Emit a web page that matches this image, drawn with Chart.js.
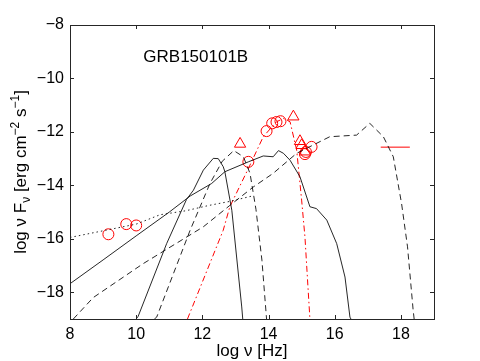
<!DOCTYPE html>
<html>
<head>
<meta charset="utf-8">
<script src="https://cdn.jsdelivr.net/npm/chart.js@4.4.1/dist/chart.umd.min.js"></script>
<style>
html, body { margin: 0; padding: 0; background: #fff; }
</style>
</head>
<body>
<canvas id="sedChart" width="480" height="361"></canvas>
<script>
// axis ticks
const xTicks = [8, 10, 12, 14, 16, 18];
const yTicks = [-8, -10, -12, -14, -16, -18];

// observed points (red)
const circleX = [9.16, 9.70, 10.0, 13.39, 13.94, 14.11, 14.24, 14.36, 15.1, 15.13, 15.3];
const circleY = [-15.83, -15.45, -15.5, -13.12, -11.97, -11.68, -11.63, -11.6, -12.83, -12.75, -12.56];
const triangleX = [13.14, 14.75, 14.95, 15.0, 15.1];
const triangleY = [-12.45, -11.43, -12.35, -12.5, -12.74];
const limitX = [17.39, 18.27];
const limitY = [-12.57, -12.57];

// model curves
const dottedX = [8.0, 9.0, 10.0, 10.72, 11.5, 12.2, 12.83, 13.5];
const dottedY = [-15.95, -15.7, -15.45, -15.1, -14.95, -14.75, -14.6, -14.4];

const solidAX = [8.0, 9.0, 10.0, 11.0, 11.63, 12.28, 12.68, 13.39, 13.84, 14.14, 14.3, 14.45, 14.65, 14.95, 15.25, 15.45, 15.76, 16.06, 16.31, 16.46, 16.49];
const solidAY = [-17.68, -16.79, -15.89, -15.0, -14.4, -13.93, -13.49, -13.12, -12.9, -12.93, -12.7, -12.8, -13.06, -13.68, -14.8, -14.87, -15.3, -16.18, -17.43, -18.93, -19.0];

const solidBX = [10.0, 10.06, 10.92, 11.52, 11.73, 12.03, 12.33, 12.48, 12.63, 12.68, 12.89, 13.19, 13.22];
const solidBY = [-19.0, -18.9, -16.18, -14.53, -14.18, -13.43, -12.99, -13.0, -13.3, -13.49, -14.93, -18.55, -19.0];

const dashCX = [8.1, 8.7, 10.21, 12.03, 12.83, 13.54, 14.14, 14.85, 15.85, 16.66, 17.06, 17.47, 17.77, 18.02, 18.2, 18.37, 18.4];
const dashCY = [-19.0, -18.2, -16.93, -15.55, -14.75, -14.06, -13.55, -12.8, -12.18, -12.12, -11.68, -12.18, -12.93, -14.68, -16.3, -18.67, -19.0];

const dashDX = [10.55, 10.62, 11.63, 12.23, 12.6, 12.95, 13.24, 13.44, 13.62, 13.8, 13.94];
const dashDY = [-19.0, -18.93, -15.68, -13.93, -13.1, -12.7, -12.93, -13.55, -14.9, -16.8, -19.0];

const redEX = [11.55, 12.63, 12.83, 13.44, 13.84, 14.24, 14.45, 14.65, 14.85, 15.0, 15.1, 15.25];
const redEY = [-19.0, -15.68, -14.8, -13.24, -12.18, -11.62, -11.5, -11.62, -12.68, -14.55, -15.93, -19.0];

const grbName = "GRB150101B";
const grbPos = [11.8, -9.2];

const FONT = '"Liberation Sans", Arial, Helvetica, sans-serif';
const BLACK = "rgba(0,0,0,0.85)";
const RED = "#ff0000";

function pts(xs, ys) {
    return xs.map((v, i) => ({ x: v, y: ys[i] }));
}

function curve(xs, ys, color, dash) {
    return {
        type: "line",
        data: pts(xs, ys),
        borderColor: color,
        borderWidth: 1,
        borderDash: dash,
        pointRadius: 0,
        fill: false,
        tension: 0
    };
}

// box, inward ticks, labels
const frame = {
    id: "frame",
    afterDraw(chart) {
        const { ctx, chartArea: a, scales: { x, y } } = chart;
        ctx.save();
        ctx.strokeStyle = "#262626";
        ctx.lineWidth = 1;
        ctx.strokeRect(Math.round(a.left) + 0.5, Math.round(a.top) + 0.5,
            Math.round(a.right - a.left), Math.round(a.bottom - a.top));
        ctx.beginPath();
        xTicks.forEach(v => {
            const px = Math.round(x.getPixelForValue(v)) + 0.5;
            ctx.moveTo(px, a.bottom); ctx.lineTo(px, a.bottom - 4);
            ctx.moveTo(px, a.top); ctx.lineTo(px, a.top + 4);
        });
        yTicks.forEach(v => {
            const py = Math.round(y.getPixelForValue(v)) + 0.5;
            ctx.moveTo(a.left, py); ctx.lineTo(a.left + 4, py);
            ctx.moveTo(a.right, py); ctx.lineTo(a.right - 4, py);
        });
        ctx.stroke();

        ctx.fillStyle = "#000";
        ctx.font = "17px " + FONT;
        ctx.textAlign = "center";
        ctx.textBaseline = "middle";
        ctx.fillText(grbName, x.getPixelForValue(grbPos[0]), y.getPixelForValue(grbPos[1]));

        // x title
        ctx.textBaseline = "alphabetic";
        ctx.fillText("log \u03bd [Hz]", (a.left + a.right) / 2, 356);

        // y title, rotated, with sub/superscripts
        const parts = [
            ["log \u03bd F", 17, 0],
            ["\u03bd", 12, 4],
            [" [erg cm", 17, 0],
            ["\u22122", 12, -7],
            [" s", 17, 0],
            ["\u22121", 12, -7],
            ["]", 17, 0]
        ];
        let total = 0;
        parts.forEach(p => { ctx.font = p[1] + "px " + FONT; total += ctx.measureText(p[0]).width; });
        ctx.translate(26, (a.top + a.bottom) / 2);
        ctx.rotate(-Math.PI / 2);
        ctx.textAlign = "left";
        let cx = -total / 2;
        parts.forEach(p => {
            ctx.font = p[1] + "px " + FONT;
            ctx.fillText(p[0], cx, p[2]);
            cx += ctx.measureText(p[0]).width;
        });
        ctx.restore();
    }
};

const ctx = document.getElementById("sedChart").getContext("2d");

new Chart(ctx, {
    type: "scatter",
    data: {
        datasets: [
            curve(dottedX, dottedY, BLACK, [1.5, 3]),
            curve(solidAX, solidAY, BLACK, []),
            curve(solidBX, solidBY, BLACK, []),
            curve(dashCX, dashCY, BLACK, [6, 4]),
            curve(dashDX, dashDY, BLACK, [6, 4]),
            curve(redEX, redEY, RED, [6, 3, 1.5, 3]),
            curve(limitX, limitY, RED, []),
            {
                type: "scatter",
                data: pts(circleX, circleY),
                pointStyle: "circle",
                pointRadius: 5.5,
                borderColor: RED,
                borderWidth: 1,
                backgroundColor: "rgba(0,0,0,0)"
            },
            {
                type: "scatter",
                data: pts(triangleX, triangleY),
                pointStyle: "triangle",
                pointRadius: 6.5,
                borderColor: RED,
                borderWidth: 1,
                backgroundColor: "rgba(0,0,0,0)"
            }
        ]
    },
    options: {
        responsive: false,
        animation: false,
        layout: { padding: { left: 0, right: 46, top: 25, bottom: 0 } },
        plugins: {
            legend: { display: false },
            tooltip: { enabled: false }
        },
        scales: {
            x: {
                type: "linear",
                min: 8,
                max: 19,
                grid: { display: false, drawTicks: false },
                border: { display: false },
                afterBuildTicks: s => { s.ticks = xTicks.map(v => ({ value: v })); },
                afterFit: s => { s.height = 42; },
                ticks: {
                    color: "#000",
                    padding: 6,
                    maxRotation: 0,
                    font: { family: FONT, size: 16 }
                }
            },
            y: {
                type: "linear",
                min: -19,
                max: -8,
                grid: { display: false, drawTicks: false },
                border: { display: false },
                afterBuildTicks: s => { s.ticks = yTicks.map(v => ({ value: v })); },
                afterFit: s => { s.width = 70; },
                ticks: {
                    color: "#000",
                    padding: 6,
                    font: { family: FONT, size: 16 },
                    callback: v => String(v).replace("-", "\u2212")
                }
            }
        }
    },
    plugins: [frame]
});
</script>
</body>
</html>
